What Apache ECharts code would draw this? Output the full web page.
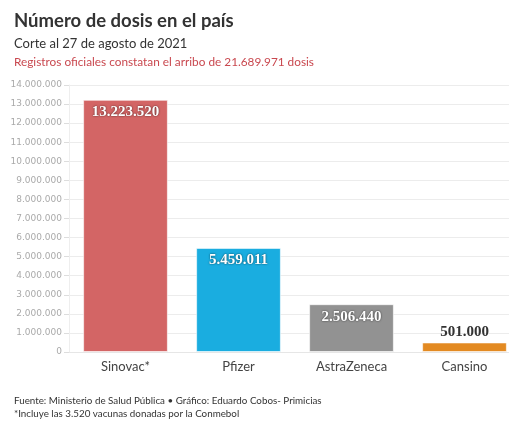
<!DOCTYPE html>
<html><head><meta charset="utf-8">
<script src="https://cdn.jsdelivr.net/npm/echarts@6/dist/echarts.min.js"></script>
<style>html,body{margin:0;padding:0;background:#fff;overflow:hidden;width:509px;height:422px;}#c{width:540px;height:422px;}</style>
</head><body><div id="c"></div>
<script>
const categories = ["Sinovac*", "Pfizer", "AstraZeneca", "Cansino"];
const values = [13223520, 5459011, 2506440, 501000];
const colors = ["#d36565", "#1aade0", "#929292", "#e38a22"];
const labelInside = [true, true, true, false];
const yMax = 14000000;
const yStep = 1000000;

function fmt(n){ return String(n).replace(/\B(?=(\d{3})+(?!\d))/g, "."); }

const chart = echarts.init(document.getElementById('c'), null, {renderer:'canvas'});
const tp = {padding:0};
chart.setOption({
  animation:false,
  textStyle:{fontFamily:'Lato'},
  title:[
    Object.assign({text:'Número de dosis en el país', left:14, top:12, textStyle:{fontFamily:'Lato', fontSize:18.5, fontWeight:'bold', color:'#333'}}, tp),
    Object.assign({text:'Corte al 27 de agosto de 2021', left:14, top:37, textStyle:{fontFamily:'Lato', fontSize:13, fontWeight:'normal', color:'#333'}}, tp),
    Object.assign({text:'Registros oficiales constatan el arribo de 21.689.971 dosis', left:14, top:56, textStyle:{fontFamily:'Lato', fontSize:11.8, fontWeight:'normal', color:'#c9484f'}}, tp),
    Object.assign({text:'Fuente: Ministerio de Salud Pública • Gráfico: Eduardo Cobos- Primicias', left:14, top:396, textStyle:{fontFamily:'Lato', fontSize:9.8, fontWeight:'normal', color:'#333'}}, tp),
    Object.assign({text:'*Incluye las 3.520 vacunas donadas por la Conmebol', left:14, top:409, textStyle:{fontFamily:'Lato', fontSize:9.8, fontWeight:'normal', color:'#333'}}, tp)
  ],
  grid:{left:69, top:85, width:452, bottom:70, containLabel:false},
  xAxis:{type:'category', data:categories,
    axisLine:{show:true, lineStyle:{color:'#e6e6e6'}}, axisTick:{show:false},
    axisLabel:{color:'#444', fontSize:13, margin:8, fontFamily:'Lato'}},
  yAxis:{type:'value', min:0, max:yMax, interval:yStep,
    axisLine:{show:true, lineStyle:{color:'#eeeeee'}},
    axisTick:{show:true, length:5, lineStyle:{color:'#dddddd'}},
    splitLine:{lineStyle:{color:'#ececec'}},
    axisLabel:{color:'#aaaaaa', fontSize:9, margin:7, fontFamily:'DejaVu Sans', formatter:v=>fmt(v)}},
  series:[{type:'bar', barCategoryGap:'25%',
    data: values.map((v,i)=>({value:v,
      itemStyle:{color:colors[i], borderColor:'rgba(255,255,255,0.6)', borderWidth:1},
      label: labelInside[i] ? {show:true, position:'insideTop', distance:5, color:'#fff', fontSize:15, fontWeight:'bold', fontFamily:'Liberation Serif',
              textShadowColor:'rgba(0,0,0,0.7)', textShadowBlur:2, formatter:p=>fmt(p.value)}
            : {show:true, position:'top', distance:3, color:'#333', fontSize:15, fontWeight:'bold', fontFamily:'Liberation Serif', formatter:p=>fmt(p.value)}
    }))
  }]
});
</script></body></html>
